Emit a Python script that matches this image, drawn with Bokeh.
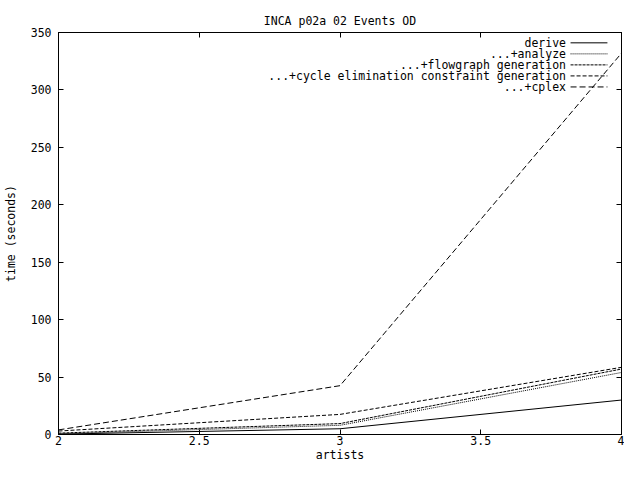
from bokeh.plotting import figure
from bokeh.models import Range1d, LinearAxis, Label, FixedTicker
from bokeh.embed import file_html
from bokeh.resources import INLINE

# data
artists = [2, 3, 4]
derive = [0.3, 5, 30]
analyze = [0.6, 8, 54]
flowgraph = [1.2, 9.5, 57]
cycle_elim = [3, 17.5, 58.5]
cplex = [4, 42.5, 332]

series_names = [
    "derive",
    "...+analyze",
    "...+flowgraph generation",
    "...+cycle elimination constraint generation",
    "...+cplex",
]
series_values = [derive, analyze, flowgraph, cycle_elim, cplex]
dashes = ["solid", "1 1", "3 1", "4 2", "6 3"]

x_ticks = [2, 2.5, 3, 3.5, 4]
y_ticks = [0, 50, 100, 150, 200, 250, 300, 350]

FONT = "DejaVu Sans Mono"
FS = "11.5px"

p = figure(
    width=624, height=464,
    x_range=Range1d(2, 4), y_range=Range1d(0, 350),
    output_backend="svg", toolbar_location=None, tools="",
    title="INCA p02a 02 Events OD",
    min_border_left=58, min_border_right=3,
    min_border_top=32, min_border_bottom=20,
)
p.title.align = "center"
p.title.text_font = FONT
p.title.text_font_size = FS
p.title.text_font_style = "normal"
p.title.text_color = "black"
p.title.offset = 0

p.xgrid.grid_line_color = None
p.ygrid.grid_line_color = None
p.outline_line_color = "black"
p.outline_line_alpha = 1

for ax in (p.xaxis, p.yaxis):
    ax.major_tick_in = 5
    ax.major_tick_out = 0
    ax.minor_tick_line_color = None
    ax.major_label_text_font = FONT
    ax.major_label_text_font_size = FS
    ax.major_label_text_color = "black"
    ax.axis_label_text_font = FONT
    ax.axis_label_text_font_size = FS
    ax.axis_label_text_font_style = "normal"
    ax.axis_label_text_color = "black"
    ax.axis_line_color = "black"
p.xaxis.ticker = FixedTicker(ticks=x_ticks)
p.yaxis.ticker = FixedTicker(ticks=y_ticks)
p.xaxis.axis_label = "artists"
p.yaxis.axis_label = "time (seconds)"
p.xaxis.major_label_standoff = 1
p.xaxis.axis_label_standoff = 0
p.yaxis.major_label_standoff = 7
p.yaxis.axis_label_standoff = 10

# mirrored ticks on top and right, no labels
top = LinearAxis(ticker=FixedTicker(ticks=x_ticks), major_tick_in=5, major_tick_out=0,
                 minor_tick_line_color=None, major_label_standoff=0,
                 major_label_overrides={t: "" for t in x_ticks})
right = LinearAxis(ticker=FixedTicker(ticks=y_ticks), major_tick_in=5, major_tick_out=0,
                   minor_tick_line_color=None, major_label_standoff=0,
                   major_label_overrides={t: "" for t in y_ticks})
p.add_layout(top, "above")
p.add_layout(right, "right")

for vals, dash in zip(series_values, dashes):
    p.line(artists, vals, line_color="black", line_width=1, line_dash=dash)

# gnuplot-style key: text right-aligned, sample on the right
key_text_x = 3.803
key_x0, key_x1 = 3.819, 3.95
key_y0, key_step = 341, 9.6
for i, (name, dash) in enumerate(zip(series_names, dashes)):
    yy = key_y0 - i * key_step
    p.add_layout(Label(x=key_text_x, y=yy, text=name, text_align="right",
                       text_baseline="middle", text_font=FONT, text_font_size=FS,
                       text_color="black"))
    p.line([key_x0, key_x1], [yy, yy], line_color="black", line_width=1, line_dash=dash)

open("out.html", "w").write(file_html(p, INLINE))
